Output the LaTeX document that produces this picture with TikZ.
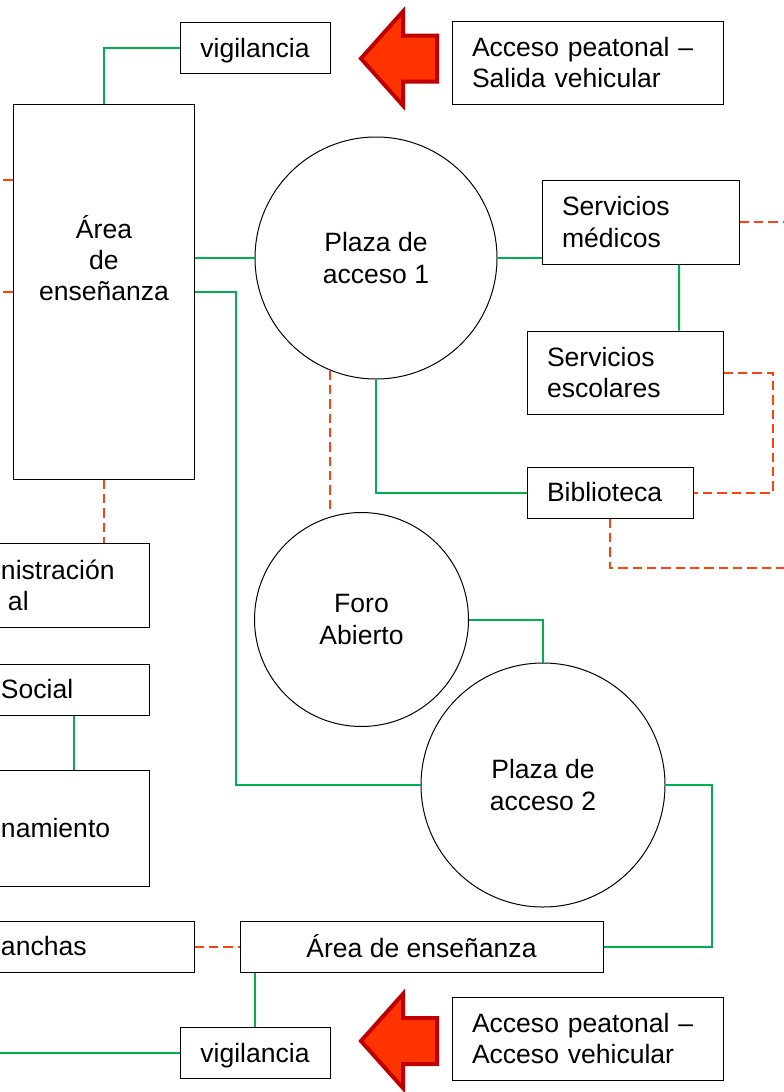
\documentclass[tikz,border=0pt]{standalone}
\usepackage{fontspec}
\setmainfont{Liberation Sans}
\usetikzlibrary{positioning}
\definecolor{verde}{HTML}{00B050}
\definecolor{naranja}{HTML}{FF4010}
\definecolor{rojo}{HTML}{FF3300}
\definecolor{rojoosc}{HTML}{C00000}

\begin{document}
\begin{tikzpicture}[x=0.75pt, y=-0.75pt, font=\fontsize{19.9}{23.3}\selectfont,
      b/.style={draw, line width=0.75pt, inner sep=0pt, align=center},
      bl/.style={b, align=left, inner xsep=15pt},
      bc/.style={bl, inner xsep=22.5pt, text width=88.5pt},
      pl/.style={b, circle},
      g/.style={draw=verde, line width=1.5pt},
      o/.style={draw=naranja, line width=1.5pt, dash pattern=on 7pt off 3.75pt},
      flecha/.style={draw=rojoosc, fill=rojo, line width=3pt, line join=miter}]
    \useasboundingbox (0,0) rectangle (784,1092);
    \clip (0,0) rectangle (784,1092);
    \fill[white] (0,0) rectangle (784,1092);
    \node[b, minimum width=112.5pt, minimum height=38.25pt, text depth=0pt] (vigT) at (255,47.5) {vigilancia};
    \node[bl, text width=173.25pt, minimum height=62.25pt] (accT) at (587.5,62.5) {Acceso peatonal \textendash\\Salida vehicular};
    \node[b, minimum width=135.75pt, minimum height=281.25pt] (ensL) at (103.5,291.5) {};
    \node[align=center] (ensLt) at (104,258) {Área\\de\\enseñanza};
    \node[pl, minimum size=181.5pt] (pl1) at (376,258) {Plaza de\\acceso 1};
    \node[bl, text width=117.75pt, minimum height=63pt] (servM) at (640.5,222) {Servicios\\médicos};
    \node[bl, text width=117pt, minimum height=62.25pt] (servE) at (625,372.5) {Servicios\\escolares};
    \node[bl, text width=94.5pt, minimum height=38.25pt] (bibl) at (610,492.5) {Biblioteca};
    \node[pl, minimum size=160.5pt] (foro) at (361.5,619.5) {Foro\\Abierto};
    \node[pl, minimum size=183pt] (pl2) at (543,785) {Plaza de\\acceso 2};
    \node[b, minimum width=272.25pt, minimum height=38.25pt] (ensB) at (421.5,946.5) {Área de enseñanza};
    \node[b, minimum width=112.5pt, minimum height=38.25pt, text depth=0pt] (vigB) at (255,1052.5) {vigilancia};
    \node[bl, text width=173.25pt, minimum height=62.25pt] (accB) at (587.5,1038.5) {Acceso peatonal \textendash\\Acceso vehicular};
    \node[bc, minimum height=63pt] (adm) at (60,585) {nistración\\\hspace*{5.25pt}al};
    \node[bc, minimum height=38.25pt] (soc) at (60,689.5) {Social};
    \node[bc, minimum height=87pt] (estac) at (60,828) {namiento};
    \node[bc, text width=122.25pt, minimum height=38.25pt] (can) at (82.5,946.5) {anchas};
    \draw[g] (vigT.west) -| (ensL.north);
    \draw[g] (pl1.west -| ensL.east) -- (pl1.west);
    \draw[g] (ensL.east) -- ++(41,0) |- (pl2.west);
    \draw[g] (pl1.east) -- (pl1.east -| servM.west);
    \draw[g] ([xshift=28.9pt]servM.south) -- ([xshift=40.5pt]servE.north);
    \draw[g] (pl1.south) |- (bibl.west);
    \draw[g] (foro.east) -| (pl2.north);
    \draw[g] (pl2.east) -- ++(46,0) |- (ensB.east);
    \draw[g] (vigB.north) -- (vigB.north |- ensB.south);
    \draw[g] (vigB.west) -- ++(-185,0);
    \draw[g] ([xshift=10.5pt]soc.south) -- ([xshift=10.5pt]estac.north);
    \draw[o] ([yshift=-57pt]ensL.north west) -- ++(-15,0);
    \draw[o] (ensL.west) -- ++(-15,0);
    \draw[o] (servM.east) -- ++(50,0);
    \draw[o] (servE.east) -- ++(49,0) |- (bibl.east);
    \draw[o] (pl1.-112) -- (pl1.-112 |- foro.north);
    \draw[o] (bibl.south) -- ++(0,49) -- ++(180,0);
    \draw[o] (ensL.south) -- (ensL.south |- adm.north);
    \draw[o] (can.east) -- (ensB.west);
    \foreach \y in {58.5,1041}
      \draw[flecha] (361,\y) -- ++(42,-47) -- ++(0,24) -- ++(34,0) -- ++(0,46) -- ++(-34,0) -- ++(0,24) -- cycle;
  \end{tikzpicture}
\end{document}
